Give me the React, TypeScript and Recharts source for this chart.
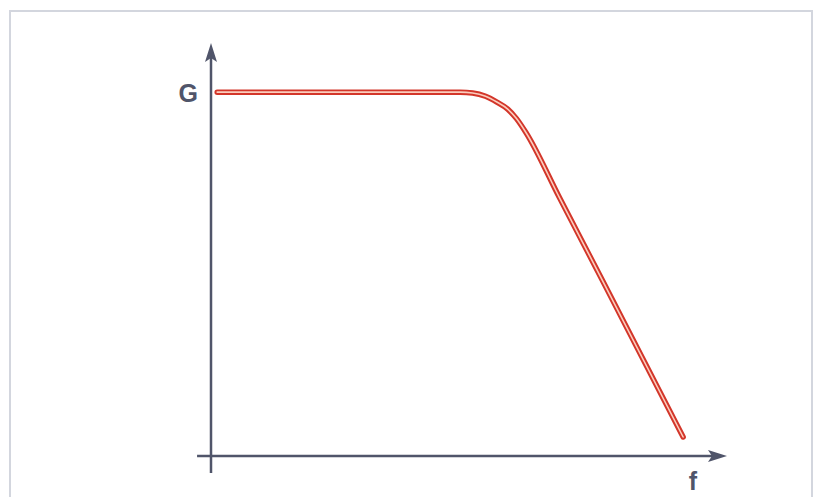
import React from "react";
import { Line, LineChart, ReferenceLine, XAxis, YAxis } from "recharts";

// frequency (f) and gain (G), both on a 0-100 scale
const freq = [1.2, 16.1, 32.8, 48.3, 50.7, 53.2, 55.4, 57.5, 59.2, 61.0, 67.6, 76.2, 91.5];
const gain = [88.1, 88.1, 88.1, 88.1, 87.9, 87.1, 85.7, 84.0, 81.7, 78.4, 62.4, 41.7, 4.6];

const axisLabels = { y: "G", x: "f" };

const data = freq.map((f, i) => ({ f, g: gain[i] }));

const AXIS_COLOR = "#50556a";
const FONT = "'Liberation Sans', Arial, sans-serif";

type ShapeProps = { x1?: number; y1?: number; x2?: number; y2?: number };

function arrowAxis(label: string, lx: number, ly: number, anchor: "start" | "middle" | "end") {
  return (p: ShapeProps) => {
    const x1 = Number(p.x1), y1 = Number(p.y1), x2 = Number(p.x2), y2 = Number(p.y2);
    const len = Math.hypot(x2 - x1, y2 - y1) || 1;
    const ux = (x2 - x1) / len;
    const uy = (y2 - y1) / len;
    const head = 19;
    const half = 6;
    const bx = x2 - ux * head;
    const by = y2 - uy * head;
    const pts = `${x2},${y2} ${bx - uy * half},${by + ux * half} ${bx + ux * 4},${by + uy * 4} ${bx + uy * half},${by - ux * half}`;
    return (
      <g>
        <line x1={x1} y1={y1} x2={bx + ux * 4} y2={by + uy * 4} stroke={AXIS_COLOR} strokeWidth={2.5} />
        <polygon points={pts} fill={AXIS_COLOR} />
        <text
          x={x2 + lx}
          y={y2 + ly}
          textAnchor={anchor}
          fontFamily={FONT}
          fontWeight="bold"
          fontSize={25}
          fill={AXIS_COLOR}
        >
          {label}
        </text>
      </g>
    );
  };
}

export default function App() {
  return (
    <div style={{ position: "absolute", left: 0, top: 0, width: 814, height: 497, background: "#fff", overflow: "hidden" }}>
      <div
        style={{
          position: "absolute",
          left: 9,
          top: 10,
          width: 800,
          height: 500,
          borderTop: "2px solid #d3d6de",
          borderLeft: "2px solid #d3d6de",
          borderRight: "2px solid #d3d6de",
        }}
      />
      <LineChart
        width={814}
        height={497}
        data={data}
        margin={{ top: 43, left: 211, right: 87, bottom: 41 }}
        style={{ position: "absolute", left: 0, top: 0 }}
      >
        <XAxis dataKey="f" type="number" domain={[0, 100]} hide />
        <YAxis type="number" domain={[0, 100]} hide />
        <ReferenceLine
          segment={[{ x: 0, y: -4.1 }, { x: 0, y: 100 }]}
          ifOverflow="visible"
          shape={arrowAxis(axisLabels.y, -13, 59, "end")}
        />
        <ReferenceLine
          segment={[{ x: -2.7, y: 0 }, { x: 100, y: 0 }]}
          ifOverflow="visible"
          shape={arrowAxis(axisLabels.x, -34, 34, "middle")}
        />
        <Line
          key="outer"
          type="monotone"
          dataKey="g"
          stroke="#d3362a"
          strokeWidth={5.5}
          strokeLinecap="round"
          dot={false}
          activeDot={false}
          isAnimationActive={false}
        />
        <Line
          key="inner"
          type="monotone"
          dataKey="g"
          stroke="#fbcdbd"
          strokeWidth={1.6}
          strokeLinecap="round"
          dot={false}
          activeDot={false}
          isAnimationActive={false}
        />
      </LineChart>
    </div>
  );
}
